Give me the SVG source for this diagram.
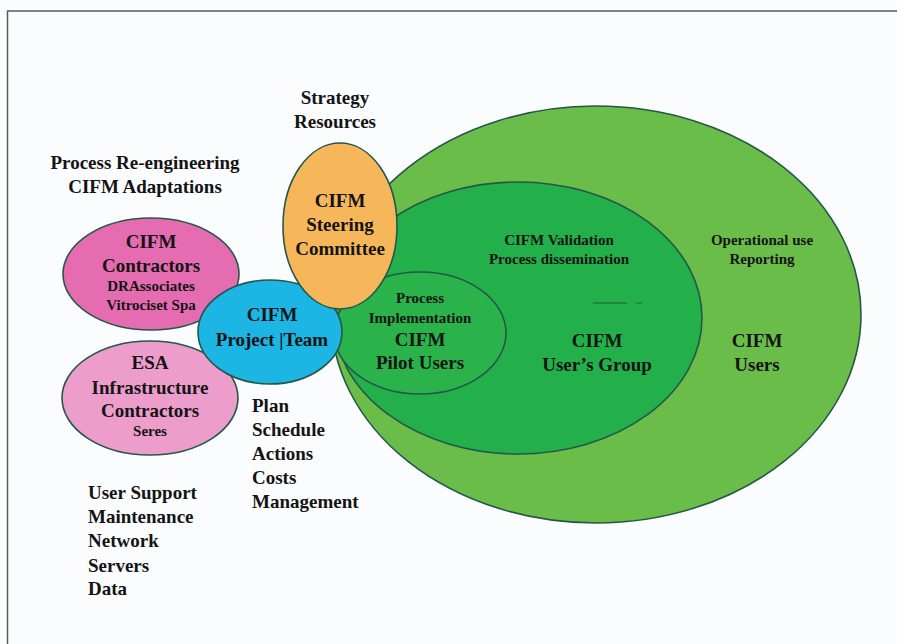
<svg xmlns="http://www.w3.org/2000/svg" width="897" height="644" viewBox="0 0 897 644">
<style>
text{font-family:"Liberation Serif","Times New Roman",serif;font-weight:bold;fill:#141414;text-anchor:middle}
.b{font-size:19px}
.s{font-size:15px}
.l{text-anchor:start}
.ol{stroke:#24574a;stroke-width:1.6}
</style>
<rect width="897" height="644" fill="#fbfcfd"/>
<path d="M7.5 644V11H897" fill="none" stroke="#5a5a5a" stroke-width="1.5"/>
<g id="users">
<ellipse class="ol" cx="596" cy="314.5" rx="265" ry="208.5" fill="#6bbd4a"/>
<text class="s" x="762" y="245">Operational use</text>
<text class="s" x="762" y="264">Reporting</text>
<text class="b" x="757" y="347">CIFM</text>
<text class="b" x="757" y="371">Users</text>
</g>
<g id="usersgroup">
<ellipse class="ol" cx="518" cy="318" rx="184" ry="136" fill="#23b04a"/>
<text class="s" x="559" y="245">CIFM Validation</text>
<text class="s" x="559" y="264">Process dissemination</text>
<line x1="593" y1="303" x2="627" y2="303" stroke="#1e3f2a" stroke-width="1.2" opacity="0.7"/>
<line x1="636" y1="303" x2="642" y2="303" stroke="#1e3f2a" stroke-width="1.2" opacity="0.5"/>
<text class="b" x="597" y="347">CIFM</text>
<text class="b" x="597" y="371">User’s Group</text>
</g>
<g id="pilot">
<ellipse class="ol" cx="420" cy="333" rx="86" ry="61" fill="#2ab24b"/>
<text class="s" x="420" y="303">Process</text>
<text class="s" x="420" y="323">Implementation</text>
<text class="b" x="420" y="346">CIFM</text>
<text class="b" x="420" y="369">Pilot Users</text>
</g>
<g id="contractors">
<ellipse class="ol" cx="151" cy="274" rx="88" ry="56" fill="#e56cb0" stroke="#3a3a5a"/>
<text class="b" x="151" y="248">CIFM</text>
<text class="b" x="151" y="272">Contractors</text>
<text class="s" x="151" y="291">DRAssociates</text>
<text class="s" x="151" y="310">Vitrociset Spa</text>
</g>
<g id="esa">
<ellipse class="ol" cx="150" cy="398" rx="88" ry="57" fill="#ed9dcb" stroke="#3a3a5a"/>
<text class="b" x="150" y="369">ESA</text>
<text class="b" x="150" y="394">Infrastructure</text>
<text class="b" x="150" y="417">Contractors</text>
<text class="s" x="150" y="436">Seres</text>
</g>
<g id="team">
<ellipse class="ol" cx="270" cy="332" rx="72" ry="52" fill="#1db5e4" stroke="#2a4a5a"/>
<text class="b" x="272" y="321">CIFM</text>
<text class="b" x="272" y="346">Project |Team</text>
</g>
<g id="steering">
<ellipse class="ol" cx="340" cy="226" rx="57" ry="83" fill="#f6b75b" stroke="#3a4a4a"/>
<text class="b" x="340" y="207">CIFM</text>
<text class="b" x="340" y="231">Steering</text>
<text class="b" x="340" y="255">Committee</text>
</g>
<g id="labels">
<text class="b" x="335" y="104">Strategy</text>
<text class="b" x="335" y="128">Resources</text>
<text class="b" x="145" y="169">Process Re-engineering</text>
<text class="b" x="145" y="193">CIFM Adaptations</text>
<text class="b l" x="252" y="412">Plan</text>
<text class="b l" x="252" y="436">Schedule</text>
<text class="b l" x="252" y="460">Actions</text>
<text class="b l" x="252" y="484">Costs</text>
<text class="b l" x="252" y="508">Management</text>
<text class="b l" x="88" y="499">User Support</text>
<text class="b l" x="88" y="523">Maintenance</text>
<text class="b l" x="88" y="547">Network</text>
<text class="b l" x="88" y="572">Servers</text>
<text class="b l" x="88" y="595">Data</text>
</g>
<g id="connectors"></g>
</svg>
